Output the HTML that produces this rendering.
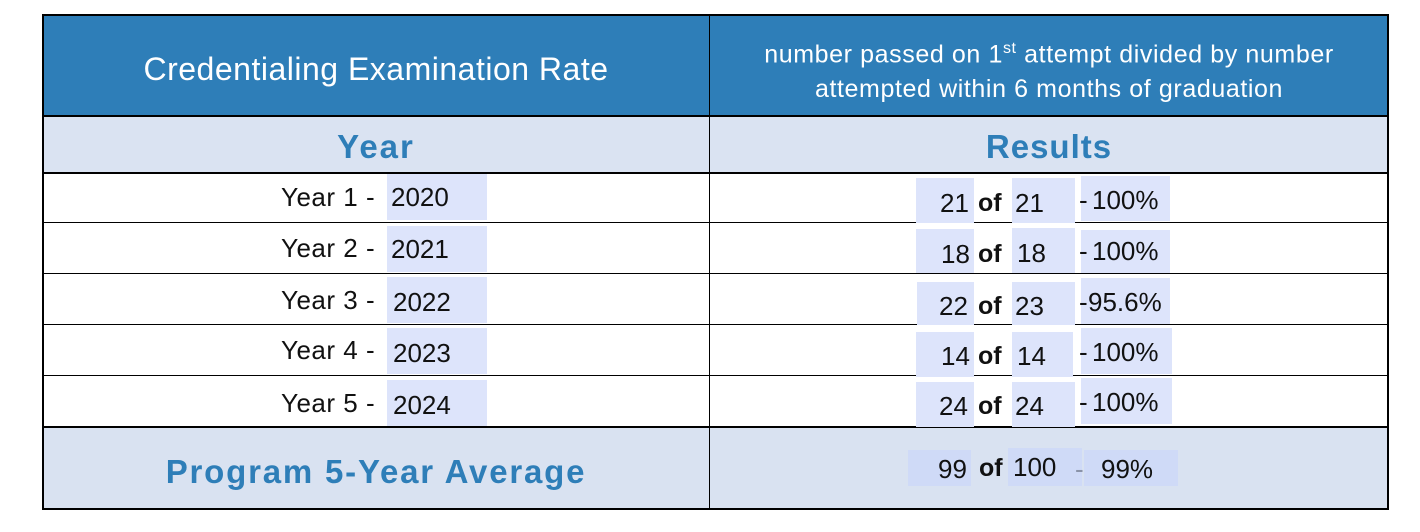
<!DOCTYPE html>
<html><head><style>
body{margin:0;width:1420px;height:532px;background:#fff;position:relative;overflow:hidden;font-family:"Liberation Sans",sans-serif;}
div{position:absolute;box-sizing:border-box;}
.t{white-space:nowrap;}
.bx{background:#dde4fb;}
.n{font-size:26px;color:#111;line-height:1;}
.of{font-size:25px;font-weight:bold;color:#111;line-height:1;}
.h{background:#000;height:2px;}
.v{background:#000;width:2px;}
</style></head><body>
<div style="left:42px;top:14px;width:1347px;height:102px;background:#2e7eb8;"></div>
<div style="left:42px;top:116px;width:1347px;height:57px;background:#dae3f2;"></div>
<div style="left:42px;top:427px;width:1347px;height:83px;background:#d9e2f1;"></div>
<div class="h" style="left:42px;top:14px;width:1347px;"></div>
<div class="h" style="left:42px;top:115px;width:1347px;"></div>
<div class="h" style="left:42px;top:172px;width:1347px;"></div>
<div class="h" style="left:42px;top:222px;width:1347px;height:1px"></div>
<div class="h" style="left:42px;top:273px;width:1347px;height:1px"></div>
<div class="h" style="left:42px;top:324px;width:1347px;height:1px"></div>
<div class="h" style="left:42px;top:375px;width:1347px;height:1px"></div>
<div class="h" style="left:42px;top:426px;width:1347px;"></div>
<div class="h" style="left:42px;top:508px;width:1347px;"></div>
<div class="v" style="left:42px;top:14px;height:496px;"></div>
<div class="v" style="left:709px;top:14px;height:496px;width:1px"></div>
<div class="v" style="left:1387px;top:14px;height:496px;"></div>

<div class="t" style="left:42px;width:668px;top:51px;text-align:center;color:#fff;font-size:32px;letter-spacing:0.5px;">Credentialing Examination Rate</div>
<div class="t" style="left:710px;width:678px;top:31px;text-align:center;color:#fff;font-size:25px;line-height:35px;letter-spacing:0.6px;">number passed on 1<sup style="font-size:16px">st</sup> attempt divided by number<br>attempted within 6 months of graduation</div>
<div class="t" style="left:42px;width:668px;top:128px;text-align:center;color:#2e7eb8;font-size:33px;font-weight:bold;letter-spacing:2px;">Year</div>
<div class="t" style="left:710px;width:678px;top:128px;text-align:center;color:#2e7eb8;font-size:33px;font-weight:bold;letter-spacing:1px;">Results</div>

<!-- rows -->
<div class="bx" style="left:387px;top:174px;width:100px;height:46px"></div>
<div class="bx" style="left:387px;top:226px;width:100px;height:46px"></div>
<div class="bx" style="left:387px;top:277px;width:100px;height:46px"></div>
<div class="bx" style="left:387px;top:328px;width:100px;height:46px"></div>
<div class="bx" style="left:387px;top:380px;width:100px;height:46px"></div>
<div class="t n" style="left:281px;top:184px;letter-spacing:0.5px">Year 1 -</div><div class="t n" style="left:391px;top:184px">2020</div>
<div class="t n" style="left:281px;top:235px;letter-spacing:0.5px">Year 2 -</div><div class="t n" style="left:391px;top:236px">2021</div>
<div class="t n" style="left:281px;top:287px;letter-spacing:0.5px">Year 3 -</div><div class="t n" style="left:393px;top:289px">2022</div>
<div class="t n" style="left:281px;top:337px;letter-spacing:0.5px">Year 4 -</div><div class="t n" style="left:393px;top:340px">2023</div>
<div class="t n" style="left:281px;top:390px;letter-spacing:0.5px">Year 5 -</div><div class="t n" style="left:393px;top:392px">2024</div>

<!-- results row boxes -->
<div class="bx" style="left:916px;top:178px;width:58px;height:45px"></div><div class="bx" style="left:1012px;top:178px;width:63px;height:45px"></div><div class="bx" style="left:1081px;top:176px;width:89px;height:45px"></div>
<div class="bx" style="left:916px;top:229px;width:58px;height:44px"></div><div class="bx" style="left:1012px;top:228px;width:63px;height:45px"></div><div class="bx" style="left:1081px;top:230px;width:89px;height:43px"></div>
<div class="bx" style="left:917px;top:282px;width:57px;height:43px"></div><div class="bx" style="left:1012px;top:282px;width:63px;height:43px"></div><div class="bx" style="left:1081px;top:278px;width:89px;height:46px"></div>
<div class="bx" style="left:916px;top:332px;width:58px;height:45px"></div><div class="bx" style="left:1012px;top:332px;width:61px;height:45px"></div><div class="bx" style="left:1081px;top:328px;width:91px;height:46px"></div>
<div class="bx" style="left:916px;top:382px;width:58px;height:45px"></div><div class="bx" style="left:1012px;top:382px;width:63px;height:45px"></div><div class="bx" style="left:1081px;top:378px;width:91px;height:46px"></div>

<div class="t n" style="left:940px;top:190px">21</div><div class="t of" style="left:978px;top:191px">of</div><div class="t n" style="left:1015px;top:190px">21</div><div class="t n" style="left:1079px;top:187px">-</div><div class="t n" style="left:1092px;top:187px">100%</div>
<div class="t n" style="left:941px;top:241px">18</div><div class="t of" style="left:978px;top:242px">of</div><div class="t n" style="left:1017px;top:240px">18</div><div class="t n" style="left:1079px;top:238px">-</div><div class="t n" style="left:1092px;top:238px">100%</div>
<div class="t n" style="left:939px;top:293px">22</div><div class="t of" style="left:978px;top:294px">of</div><div class="t n" style="left:1015px;top:293px">23</div><div class="t n" style="left:1079px;top:289px">-</div><div class="t n" style="left:1088px;top:289px">95.6%</div>
<div class="t n" style="left:941px;top:343px">14</div><div class="t of" style="left:978px;top:344px">of</div><div class="t n" style="left:1017px;top:343px">14</div><div class="t n" style="left:1079px;top:339px">-</div><div class="t n" style="left:1092px;top:339px">100%</div>
<div class="t n" style="left:939px;top:393px">24</div><div class="t of" style="left:978px;top:394px">of</div><div class="t n" style="left:1015px;top:393px">24</div><div class="t n" style="left:1079px;top:389px">-</div><div class="t n" style="left:1092px;top:389px">100%</div>

<!-- average -->
<div class="t" style="left:42px;width:668px;top:453px;text-align:center;color:#2e7eb8;font-size:33px;font-weight:bold;letter-spacing:1.8px;">Program 5-Year Average</div>
<div class="bx" style="left:908px;top:450px;width:63px;height:36px;background:#cfdaf7"></div>
<div class="bx" style="left:1008px;top:448px;width:74px;height:38px;background:#cfdaf7"></div>
<div class="bx" style="left:1084px;top:450px;width:94px;height:36px;background:#cfdaf7"></div>
<div class="t n" style="left:938px;top:456px">99</div><div class="t of" style="left:979px;top:456px">of</div><div class="t n" style="left:1013px;top:454px">100</div><div class="t n" style="left:1075px;top:456px;color:#8a93a8">-</div><div class="t n" style="left:1101px;top:456px">99%</div>
</body></html>
